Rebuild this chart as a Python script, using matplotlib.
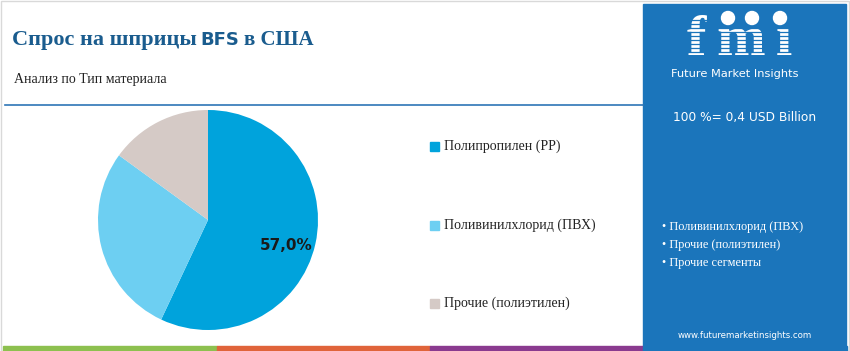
import matplotlib
matplotlib.use("Agg")
import matplotlib.pyplot as plt
from matplotlib.patches import Rectangle

categories = ["Полипропилен (PP)", "Поливинилхлорид (ПВХ)", "Прочие (полиэтилен)"]
values = [57.0, 28.0, 15.0]
colors = ["#00A3DC", "#6DCFF2", "#D5CAC6"]
shown_label = "57,0%"
bullets = ["Поливинилхлорид (ПВХ)", "Прочие (полиэтилен)", "Прочие сегменты"]
total_text = "100 %= 0,4 USD Billion"

W, H = 850, 351
fig = plt.figure(figsize=(W/100, H/100), dpi=100)
fig.patch.set_facecolor("white")

bg = fig.add_axes([0, 0, 1, 1])
bg.set_xlim(0, W); bg.set_ylim(H, 0); bg.axis("off")

# outer border
bg.add_patch(Rectangle((0.5, 0.5), W-1, H-1, fill=False, ec="#D9D9D9", lw=1))
# right panel
bg.add_patch(Rectangle((643, 4), 203, 342, color="#1B75BB", zorder=1))
# separator line
bg.plot([5, 643], [104.5, 104.5], color="#2E75B6", lw=1.2)
# bottom strip
for x0, x1, c in [(3, 217, "#8DC04F"), (217, 430, "#E0643A"), (430, 643, "#8A3A8F"), (643, 847, "#1B75BB")]:
    bg.add_patch(Rectangle((x0, 346), x1-x0, 5, color=c, zorder=2))

serif = ["Liberation Serif", "DejaVu Serif"]
tcol = "#1A5C8E"
# title
t = bg.text(12, 40, "Спрос на шприцы", fontsize=16, fontweight="bold", family=serif,
            color=tcol, va="center", ha="left")
fig.canvas.draw()
bb = t.get_window_extent()
t2 = bg.text(bb.x1 + 4, H - 40, "BFS", fontsize=13, fontweight="bold", family="DejaVu Sans",
             color=tcol, va="center", ha="left", transform=None)
fig.canvas.draw()
bb2 = t2.get_window_extent()
bg.text(bb2.x1 + 4, H - 40, "в США", fontsize=15, fontweight="bold", family=serif,
        color=tcol, va="center", ha="left", transform=None)

bg.text(14, 80, "Анализ по Тип материала", fontsize=10, family=serif, color="#222222",
        va="center", ha="left")

# pie
cx, cy, r = 208, 220, 110
pax = fig.add_axes([(cx - r)/W, (H - cy - r)/H, 2*r/W, 2*r/H])
pax.pie(values, colors=colors, startangle=90, counterclock=False, radius=1,
        wedgeprops=dict(linewidth=0))
pax.set_xlim(-1, 1); pax.set_ylim(-1, 1)
pax.set_aspect("equal")
pax.axis("off")
pax.text((286 - cx)/r, -(245 - cy)/r, shown_label, fontsize=11, fontweight="bold",
         family="DejaVu Sans", color="#1a1a1a", ha="center", va="center")

# legend
for i, (cat, c) in enumerate(zip(categories, colors)):
    y = [146, 225, 303][i]
    bg.add_patch(Rectangle((430, y - 4.5), 9, 9, color=c))
    bg.text(444, y, cat, fontsize=10, family=serif, color="#222222", va="center", ha="left")

# right panel content: logo
for ch, xc in [("f", 696), ("m", 741), ("ı", 784)]:
    bg.text(xc, 55, ch, fontsize=42, fontweight="bold", family=serif, color="white",
            ha="center", va="baseline", zorder=3)
for yy in range(20, 56, 4):
    bg.plot([668, 802], [yy, yy], color="#1B75BB", lw=0.9, zorder=4)
for xx in [728, 752, 780]:
    bg.add_patch(plt.Circle((xx, 18), 6.5, color="white", zorder=5))
bg.text(735, 74, "Future Market Insights", fontsize=8.2, family="DejaVu Sans", color="white",
        ha="center", va="center", zorder=3)
bg.text(745, 117, total_text, fontsize=8.8, family="DejaVu Sans", color="white",
        ha="center", va="center", zorder=3)
for i, b in enumerate(bullets):
    bg.text(662, 227 + i*17.8, "• " + b, fontsize=8.8, family=serif, color="white",
            ha="left", va="center", zorder=3)
bg.text(745, 336, "www.futuremarketinsights.com", fontsize=6.2, family="DejaVu Sans",
        color="white", ha="center", va="center", zorder=3)

fig.savefig("out.png", dpi=100, facecolor="white")
